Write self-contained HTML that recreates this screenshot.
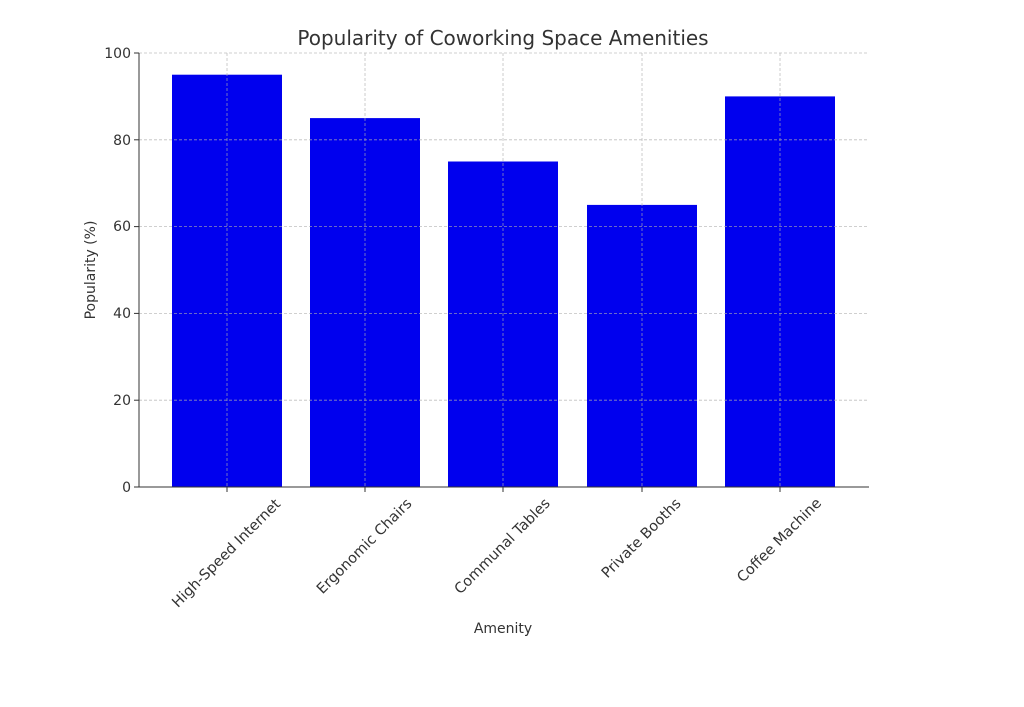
<!DOCTYPE html>
<html><head><meta charset="utf-8"><style>
html,body{margin:0;padding:0;background:#fff;}
svg text{font-family:"DejaVu Sans","Liberation Sans",sans-serif;fill:#333;}
</style></head><body>
<svg width="1024" height="702" viewBox="0 0 1024 702" xmlns="http://www.w3.org/2000/svg">
<rect width="1024" height="702" fill="#fff"/>
<g fill="#0000ee">
<rect x="172" y="74.7" width="110" height="412.3"/>
<rect x="310" y="118.1" width="110" height="368.9"/>
<rect x="448" y="161.5" width="110" height="325.5"/>
<rect x="587" y="204.9" width="110" height="282.1"/>
<rect x="725" y="96.4" width="110" height="390.6"/>
</g>
<g stroke="#b0b0b0" stroke-width="0.8" stroke-dasharray="3,2" fill="none" opacity="0.8">
<line x1="139" x2="869" y1="53" y2="53"/>
<line x1="139" x2="869" y1="139.8" y2="139.8"/>
<line x1="139" x2="869" y1="226.6" y2="226.6"/>
<line x1="139" x2="869" y1="313.4" y2="313.4"/>
<line x1="139" x2="869" y1="400.2" y2="400.2"/>
<line x1="227" x2="227" y1="53" y2="487"/>
<line x1="365" x2="365" y1="53" y2="487"/>
<line x1="503" x2="503" y1="53" y2="487"/>
<line x1="642" x2="642" y1="53" y2="487"/>
<line x1="780" x2="780" y1="53" y2="487"/>
</g>
<g stroke="#333" stroke-width="1">
<line x1="139" x2="139" y1="53" y2="487"/>
<line x1="139" x2="869" y1="487" y2="487"/>
<line x1="134" x2="139" y1="53" y2="53"/>
<line x1="134" x2="139" y1="139.8" y2="139.8"/>
<line x1="134" x2="139" y1="226.6" y2="226.6"/>
<line x1="134" x2="139" y1="313.4" y2="313.4"/>
<line x1="134" x2="139" y1="400.2" y2="400.2"/>
<line x1="134" x2="139" y1="487" y2="487"/>
<line x1="227" x2="227" y1="487" y2="492"/>
<line x1="365" x2="365" y1="487" y2="492"/>
<line x1="503" x2="503" y1="487" y2="492"/>
<line x1="642" x2="642" y1="487" y2="492"/>
<line x1="780" x2="780" y1="487" y2="492"/>
</g>
<g font-size="14" text-anchor="end">
<text x="131" y="58">100</text>
<text x="131" y="145">80</text>
<text x="131" y="231">60</text>
<text x="131" y="318">40</text>
<text x="131" y="405">20</text>
<text x="131" y="492">0</text>
</g>
<g font-size="14.5" text-anchor="middle">
<text transform="translate(226,553) rotate(-45)" dy="5">High-Speed Internet</text>
<text transform="translate(364,546) rotate(-45)" dy="5">Ergonomic Chairs</text>
<text transform="translate(502,546) rotate(-45)" dy="5">Communal Tables</text>
<text transform="translate(641,538) rotate(-45)" dy="5">Private Booths</text>
<text transform="translate(779,540) rotate(-45)" dy="5">Coffee Machine</text>
</g>
<text x="503" y="633" font-size="14" text-anchor="middle">Amenity</text>
<text transform="translate(95,270) rotate(-90)" font-size="14" text-anchor="middle">Popularity (%)</text>
<text x="503" y="45" font-size="20" text-anchor="middle">Popularity of Coworking Space Amenities</text>
</svg>
</body></html>
